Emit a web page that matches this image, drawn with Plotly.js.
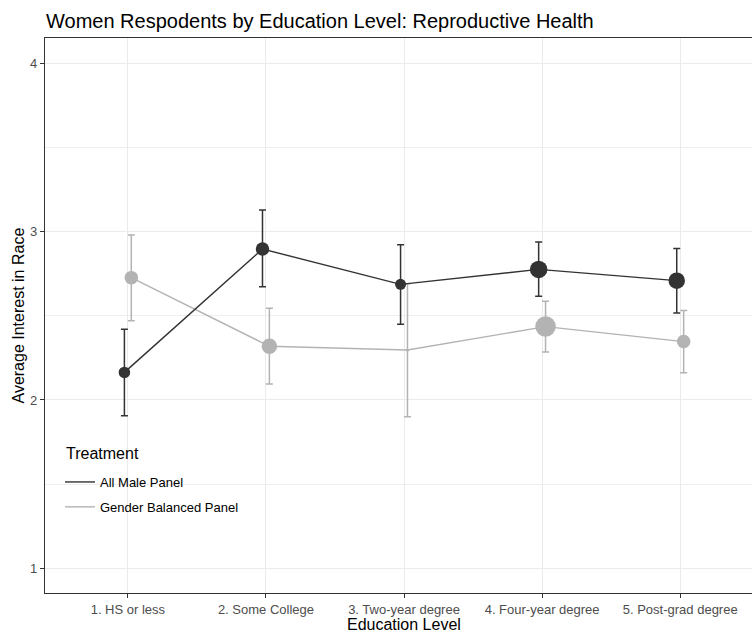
<!DOCTYPE html>
<html>
<head>
<meta charset="utf-8">
<script src="https://cdn.plot.ly/plotly-3.0.1.min.js"></script>
<style>html,body{margin:0;padding:0;background:#fff;}#chart{width:752px;height:634px;}</style>
</head>
<body>
<div id="chart"></div>
<script>
const categories = ["1. HS or less", "2. Some College", "3. Two-year degree", "4. Four-year degree", "5. Post-grad degree"];
const maleMean  = [2.164, 2.897, 2.687, 2.776, 2.709];
const maleUpper = [2.420, 3.129, 2.923, 2.939, 2.900];
const maleLower = [1.907, 2.673, 2.450, 2.616, 2.517];
const maleSize  = [11.5, 13.5, 11, 17.5, 16.5];
const balMean  = [2.727, 2.319, 2.297, 2.436, 2.347];
const balUpper = [2.980, 2.545, 2.690, 2.586, 2.531];
const balLower = [2.471, 2.095, 1.900, 2.285, 2.162];
const balSize  = [13.5, 15.5, 3, 20.5, 13.5];
const seriesNames = ["All Male Panel", "Gender Balanced Panel"];
const legendTitle = "Treatment";
const yTicks = [1, 2, 3, 4];

const DARK = '#333333', LIGHT = '#b3b3b3';
const FONT = 'Liberation Sans, Arial, sans-serif';
const dodge = 0.025;
const pos = categories.map((c, i) => i + 1);

function series(mean, up, lo, size, color, shift) {
  return {
    type: 'scatter', mode: 'lines+markers',
    x: pos.map(p => p + shift), y: mean,
    line: {color: color, width: 1.4},
    marker: {color: color, size: size, opacity: 1, line: {width: 0}},
    error_y: {type: 'data', symmetric: false,
      array: up.map((u, i) => u - mean[i]),
      arrayminus: lo.map((l, i) => mean[i] - l),
      color: color, thickness: 1.5, width: 3.5},
    showlegend: false, hoverinfo: 'skip'
  };
}

const data = [
  series(balMean, balUpper, balLower, balSize, LIGHT, dodge),
  series(maleMean, maleUpper, maleLower, maleSize, DARK, -dodge),
  {type: 'scatter', mode: 'lines', x: [null], y: [null], name: seriesNames[0], legendgroup: 'a', line: {color: DARK, width: 1.4}},
  {type: 'scatter', mode: 'lines', x: [null], y: [null], name: seriesNames[1], legendgroup: 'b', line: {color: LIGHT, width: 1.4}}
];

const px2x = px => (px - 45) / 707;
const px2y = py => (593 - py) / 555;

const layout = {
  width: 752, height: 634,
  margin: {l: 45, r: 0, t: 38, b: 41},
  paper_bgcolor: '#fff', plot_bgcolor: '#fff',
  font: {family: FONT, color: '#000'},
  title: {text: 'Women Respodents by Education Level: Reproductive Health',
    font: {size: 20, color: '#000', family: FONT},
    xref: 'container', x: 46/752, xanchor: 'left',
    yref: 'container', y: 1 - 21/634, yanchor: 'middle'},
  xaxis: {
    range: [0.4, 5.52], tickvals: pos, ticktext: categories,
    showgrid: true, gridcolor: '#ebebeb', gridwidth: 1,
    showline: true, linecolor: DARK, linewidth: 1.2, mirror: true,
    ticks: 'outside', ticklen: 4, tickcolor: DARK, tickwidth: 1,
    tickfont: {size: 13, color: '#4d4d4d', family: FONT},
    zeroline: false, fixedrange: true
  },
  yaxis: {
    range: [0.853, 4.151], tickvals: yTicks,
    showgrid: true, gridcolor: '#ebebeb', gridwidth: 1,
    minor: {tickvals: [1.5, 2.5, 3.5], showgrid: true, gridcolor: '#ebebeb', gridwidth: 0.8, ticks: ''},
    showline: true, linecolor: DARK, linewidth: 1.2,
    ticks: 'outside', ticklen: 4, tickcolor: DARK, tickwidth: 1,
    tickfont: {size: 13, color: '#4d4d4d', family: FONT},
    zeroline: false, fixedrange: true
  },
  shapes: [
    {type: 'rect', xref: 'paper', yref: 'paper', layer: 'between',
      x0: px2x(57), x1: px2x(250), y0: px2y(530), y1: px2y(437),
      fillcolor: '#fff', line: {width: 0}}
  ],
  annotations: [
    {text: 'Education Level', xref: 'paper', yref: 'paper', x: px2x(404), y: px2y(624),
      xanchor: 'center', yanchor: 'middle', showarrow: false, font: {size: 16, color: '#000', family: FONT}},
    {text: 'Average Interest in Race', xref: 'paper', yref: 'paper', x: px2x(18), y: 0.5,
      xanchor: 'center', yanchor: 'middle', textangle: -90, showarrow: false, font: {size: 16, color: '#000', family: FONT}},
    {text: legendTitle, xref: 'paper', yref: 'paper', x: px2x(64), y: px2y(453),
      xanchor: 'left', yanchor: 'middle', showarrow: false, font: {size: 16, color: '#000', family: FONT}}
  ],
  legend: {
    x: px2x(60), y: px2y(467), xanchor: 'left', yanchor: 'top',
    bgcolor: 'rgba(0,0,0,0)', borderwidth: 0,
    traceorder: 'grouped', tracegroupgap: 5,
    font: {size: 13, color: '#000', family: FONT},
    itemwidth: 30
  },
  showlegend: true
};

Plotly.newPlot('chart', data, layout, {displayModeBar: false, staticPlot: true});
</script>
</body>
</html>
